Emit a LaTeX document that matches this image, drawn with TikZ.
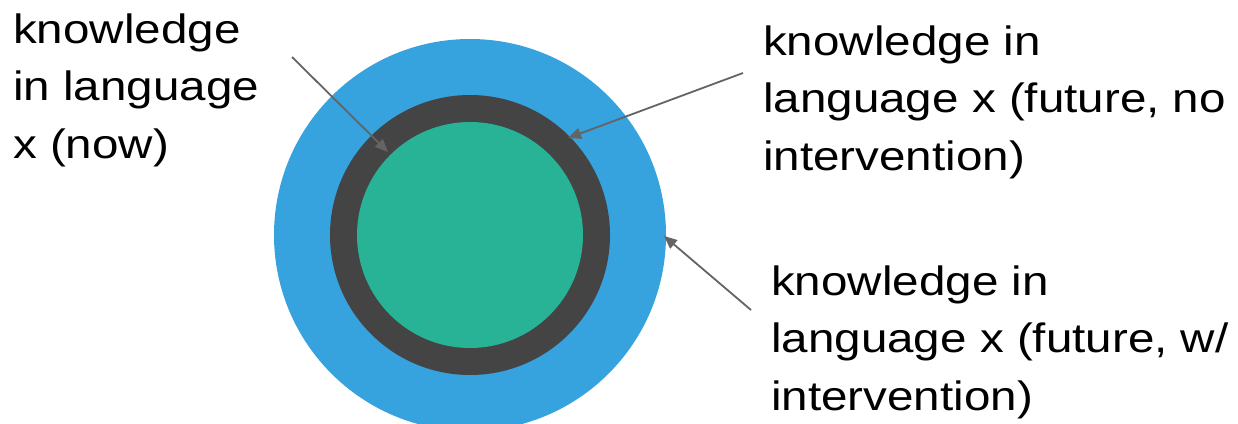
\documentclass[tikz,border=0pt]{standalone}
\usepackage{fontspec}
\setmainfont[FakeStretch=1.16]{Liberation Sans}
\usetikzlibrary{arrows.meta}
\definecolor{outerblue}{RGB}{54,162,222}
\definecolor{ringgray}{RGB}{68,68,68}
\definecolor{innergreen}{RGB}{40,178,150}
\definecolor{pointer}{RGB}{100,100,100}
\newcommand{\threelines}[3]{\vtop{\baselineskip=57.5pt\hbox{#1}\hbox{#2}\hbox{#3}}}
\tikzset{
  lbl/.style={anchor=base west, inner sep=0pt, font=\fontsize{41pt}{57.5pt}\selectfont},
  ptr/.style={draw=pointer, line width=1.8pt, -{Triangle[length=13pt,width=11pt]}},
  ring/.style={circle, draw=none, inner sep=0pt}
}
\begin{document}
\begin{tikzpicture}[x=1pt,y=-1pt]
  \useasboundingbox (0,0) rectangle (1238,423);
  % nested circles
  \node[ring, fill=outerblue, minimum size=392pt] (outer) at (470,235) {};
  \node[ring, fill=ringgray, minimum size=280pt] (mid) at (470,235) {};
  \node[ring, fill=innergreen, minimum size=226pt] (inner) at (470,235) {};
  % labels
  \node[lbl] (now) at (13,43) {\threelines{knowledge}{in language}{x (now)}};
  \node[lbl] (noint) at (763,55) {\threelines{knowledge in}{language x (future, no}{intervention)}};
  \node[lbl] (wint) at (771,295) {\threelines{knowledge in}{language x (future, w/}{intervention)}};
  % pointer ends
  \coordinate (s1) at (292,57);
  \coordinate (e1) at (388,152);
  \coordinate (s2) at (743,73);
  \coordinate (e2) at (568,138);
  \coordinate (s3) at (751,310);
  \coordinate (e3) at (664,236);
  \draw[ptr] (s1) -- (e1);
  \draw[ptr] (s2) -- (e2);
  \draw[ptr] (s3) -- (e3);
\end{tikzpicture}
\end{document}
